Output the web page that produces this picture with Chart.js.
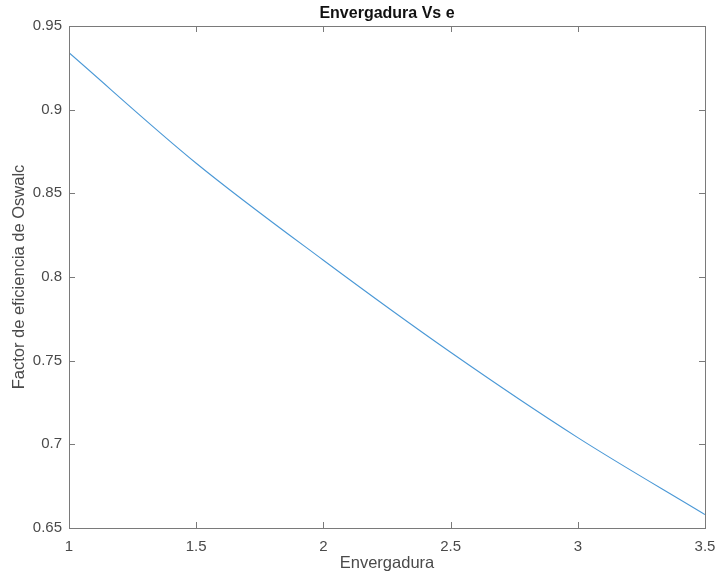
<!DOCTYPE html>
<html>
<head>
<meta charset="utf-8">
<script src="https://cdn.jsdelivr.net/npm/chart.js@4/dist/chart.umd.min.js"></script>
<style>
  html, body { margin: 0; padding: 0; background: #fff; }
  #wrap { width: 717px; height: 575px; }
</style>
</head>
<body>
<div id="wrap"><canvas id="grafica"></canvas></div>
<script>
// datos
const envergadura = [1, 1.5, 2, 2.5, 3, 3.5];
const eficiencia = [0.934, 0.868, 0.810, 0.755, 0.704, 0.658];
const ticksX = [1, 1.5, 2, 2.5, 3, 3.5];
const ticksY = [0.65, 0.7, 0.75, 0.8, 0.85, 0.9, 0.95];

const titulo = 'Envergadura Vs e';
const tituloX = 'Envergadura';
const tituloY = 'Factor de eficiencia de Oswalc';

const colorEje = '#7a7a7a';
const colorTexto = '#4a4a4a';
const fuente = '"Liberation Sans", Arial, sans-serif';

// caja, marcas hacia dentro y titulos (estilo MATLAB)
const cajaPlugin = {
    id: 'caja',
    afterDraw(chart) {
        const ctx = chart.ctx;
        const a = chart.chartArea;
        const sx = chart.scales.x;
        const sy = chart.scales.y;
        const largo = 6;
        ctx.save();
        ctx.strokeStyle = colorEje;
        ctx.lineWidth = 1;
        ctx.strokeRect(Math.round(a.left) + 0.5, Math.round(a.top) + 0.5,
            Math.round(a.right - a.left), Math.round(a.bottom - a.top));
        ctx.beginPath();
        ticksX.forEach(v => {
            const px = Math.round(sx.getPixelForValue(v)) + 0.5;
            ctx.moveTo(px, a.bottom); ctx.lineTo(px, a.bottom - largo);
            ctx.moveTo(px, a.top); ctx.lineTo(px, a.top + largo);
        });
        ticksY.forEach(v => {
            const py = Math.round(sy.getPixelForValue(v)) + 0.5;
            ctx.moveTo(a.left, py); ctx.lineTo(a.left + largo, py);
            ctx.moveTo(a.right, py); ctx.lineTo(a.right - largo, py);
        });
        ctx.stroke();

        // titulo
        ctx.fillStyle = '#111';
        ctx.font = 'bold 16px ' + fuente;
        ctx.textAlign = 'center';
        ctx.textBaseline = 'middle';
        ctx.fillText(titulo, (a.left + a.right) / 2, 14);

        // titulo eje x
        ctx.fillStyle = colorTexto;
        ctx.font = '16.5px ' + fuente;
        ctx.fillText(tituloX, (a.left + a.right) / 2, 563);

        // titulo eje y
        ctx.translate(19, (a.top + a.bottom) / 2);
        ctx.rotate(-Math.PI / 2);
        ctx.fillText(tituloY, 0, 0);
        ctx.restore();
    }
};

const ctx = document.getElementById('grafica').getContext('2d');
const grafica = new Chart(ctx, {
    type: 'line',
    data: {
        datasets: [{
            data: envergadura.map((x, i) => ({ x: x, y: eficiencia[i] })),
            borderColor: '#4a98d6',
            borderWidth: 1.1,
            pointRadius: 0,
            fill: false,
            cubicInterpolationMode: 'monotone'
        }]
    },
    options: {
        responsive: true,
        maintainAspectRatio: false,
        animation: false,
        layout: { padding: { left: 0, right: 12, top: 26, bottom: 0 } },
        plugins: {
            legend: { display: false },
            tooltip: { enabled: false },
            title: { display: false }
        },
        scales: {
            x: {
                type: 'linear',
                min: 1,
                max: 3.5,
                grid: { display: false, drawTicks: false },
                border: { display: false },
                afterBuildTicks: s => { s.ticks = ticksX.map(v => ({ value: v })); },
                afterFit: s => { s.height = 47; s.paddingLeft = 0; s.paddingRight = 0; },
                ticks: {
                    color: colorTexto,
                    font: { family: fuente, size: 15 },
                    padding: 10,
                    maxRotation: 0,
                    callback: v => String(v)
                }
            },
            y: {
                type: 'linear',
                min: 0.65,
                max: 0.95,
                grid: { display: false, drawTicks: false },
                border: { display: false },
                afterBuildTicks: s => { s.ticks = ticksY.map(v => ({ value: v })); },
                afterFit: s => { s.width = 69; s.paddingTop = 0; s.paddingBottom = 0; },
                ticks: {
                    color: colorTexto,
                    font: { family: fuente, size: 15 },
                    padding: 7,
                    callback: v => String(+v.toFixed(2))
                }
            }
        }
    },
    plugins: [cajaPlugin]
});
</script>
</body>
</html>
